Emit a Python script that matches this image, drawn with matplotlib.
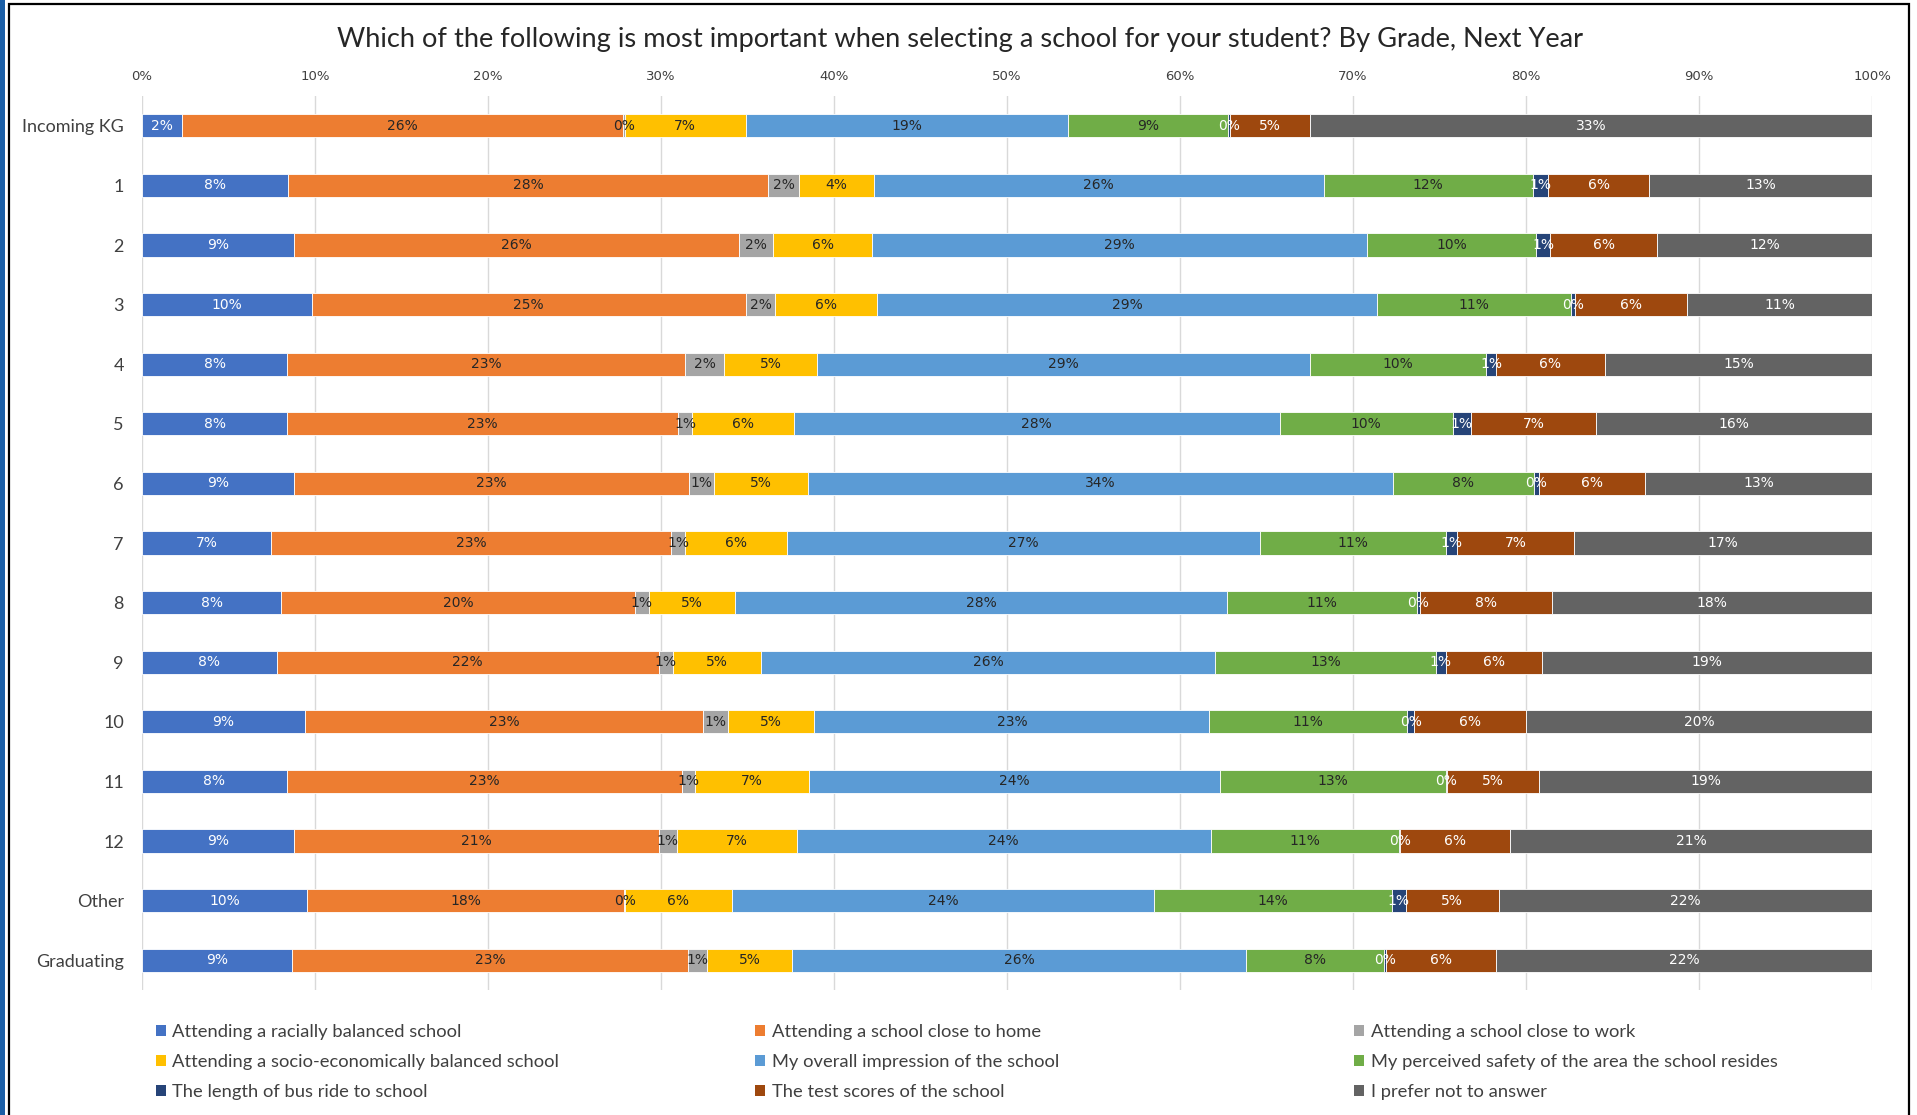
import matplotlib
matplotlib.use("Agg")
import matplotlib.pyplot as plt
from matplotlib.patches import Rectangle, Patch
import numpy as np

categories = ["Incoming KG", "1", "2", "3", "4", "5", "6", "7", "8", "9",
              "10", "11", "12", "Other", "Graduating"]

series_names = [
    "Attending a racially balanced school",
    "Attending a school close to home",
    "Attending a school close to work",
    "Attending a socio-economically balanced school",
    "My overall impression of the school",
    "My perceived safety of the area the school resides",
    "The length of bus ride to school",
    "The test scores of the school",
    "I prefer not to answer",
]

racial      = [2.3, 8.45, 8.8, 9.8, 8.4, 8.4, 8.8, 7.45, 8.05, 7.8, 9.4, 8.37, 8.8, 9.54, 8.69]
home        = [25.5, 27.75, 25.7, 25.1, 23.0, 22.6, 22.8, 23.15, 20.45, 22.06, 23.05, 22.87, 21.06, 18.33, 22.87]
work        = [0.1, 1.8, 2.0, 1.7, 2.25, 0.8, 1.45, 0.8, 0.78, 0.84, 1.42, 0.71, 1.06, 0.05, 1.1]
socio       = [7.0, 4.3, 5.7, 5.9, 5.35, 5.86, 5.45, 5.9, 5.0, 5.08, 5.0, 6.63, 6.92, 6.16, 4.93]
impression  = [18.6, 26.0, 28.6, 28.9, 28.5, 28.1, 33.8, 27.3, 28.43, 26.24, 22.83, 23.72, 23.94, 24.44, 26.2]
safety      = [9.3, 12.1, 9.8, 11.2, 10.2, 10.0, 8.15, 10.8, 10.97, 12.77, 11.43, 13.05, 10.89, 13.72, 7.99]
bus         = [0.1, 0.9, 0.8, 0.25, 0.55, 1.06, 0.31, 0.6, 0.2, 0.56, 0.42, 0.11, 0.05, 0.81, 0.11]
test_scores = [4.6, 5.8, 6.2, 6.45, 6.3, 7.25, 6.14, 6.8, 7.64, 5.55, 6.44, 5.3, 6.35, 5.38, 6.36]
no_answer   = [32.5, 12.9, 12.4, 10.7, 15.45, 15.93, 13.1, 17.2, 18.46, 19.1, 20.0, 19.24, 20.93, 21.57, 21.75]

x_ticks = [0, 10, 20, 30, 40, 50, 60, 70, 80, 90, 100]
x_tick_labels = ["0%", "10%", "20%", "30%", "40%", "50%", "60%", "70%", "80%", "90%", "100%"]

title = "Which of the following is most important when selecting a school for your student? By Grade, Next Year"

all_series = [racial, home, work, socio, impression, safety, bus, test_scores, no_answer]
colors = ["#4472C4", "#ED7D31", "#A5A5A5", "#FFC000", "#5B9BD5",
          "#70AD47", "#264478", "#9E480E", "#636363"]
label_colors = ["white", "#262626", "#262626", "#262626", "#262626",
                "#262626", "white", "white", "white"]

W, H = 1917, 1115
fig = plt.figure(figsize=(W / 100, H / 100), dpi=100)
fig.patch.set_facecolor("white")

ax = fig.add_axes([142 / W, 1 - 990 / H, (1872 - 142) / W, (990 - 96) / H])

label_font = ["Liberation Sans Narrow", "DejaVu Sans"]
main_font = ["Lato", "DejaVu Sans"]

y = np.arange(len(categories))
left = np.zeros(len(categories))
for vals, col, lc in zip(all_series, colors, label_colors):
    v = np.array(vals)
    ax.barh(y, v, left=left, height=0.39, color=col, edgecolor="white",
            linewidth=0.6, zorder=2)
    for yi, (l, w) in enumerate(zip(left, v)):
        ax.text(l + w / 2, yi, f"{int(np.floor(w + 0.5))}%", ha="center",
                va="center", fontsize=10, color=lc, family=label_font, zorder=3)
    left = left + v

ax.set_xlim(0, 100)
ax.set_ylim(len(categories) - 0.5, -0.5)
ax.set_yticks(y)
ax.set_yticklabels(categories, family=main_font, fontsize=13, color="#404040")
ax.set_xticks(x_ticks)
ax.set_xticklabels(x_tick_labels, family=label_font, fontsize=9.5, color="#404040")
ax.xaxis.tick_top()
ax.tick_params(axis="x", length=0, pad=9.5)
ax.tick_params(axis="y", length=0, pad=13)
ax.grid(axis="x", color="#D9D9D9", linewidth=1, zorder=0)
ax.set_axisbelow(True)
for s in ax.spines.values():
    s.set_visible(False)

fig.text(960 / W, 1 - 40 / H, title, ha="center", va="center",
         fontsize=19.6, color="#262626", family=main_font)

handles = [Patch(facecolor=c, edgecolor="none") for c in colors]
col_x = [156, 755, 1354]
for ci in range(3):
    idx = [ci, ci + 3, ci + 6]
    fig.legend([handles[i] for i in idx], [series_names[i] for i in idx],
               loc="upper left", bbox_to_anchor=(col_x[ci] / W, 1 - 1024 / H),
               frameon=False, handlelength=0.55, handleheight=0.55,
               handletextpad=0.35, labelspacing=0.76, borderpad=0, borderaxespad=0,
               prop={"family": main_font, "size": 13.2}, labelcolor="#404040")

fig.add_artist(Rectangle((0, 0), 5 / W, 1, transform=fig.transFigure,
                         facecolor="#1A5EA6", edgecolor="none"))
fig.add_artist(Rectangle((9 / W, -0.02), (1909 - 9) / W, 1.02 - 4 / H,
                         transform=fig.transFigure, fill=False,
                         edgecolor="black", linewidth=1.6))

fig.savefig("out.png", dpi=100, facecolor="white")
